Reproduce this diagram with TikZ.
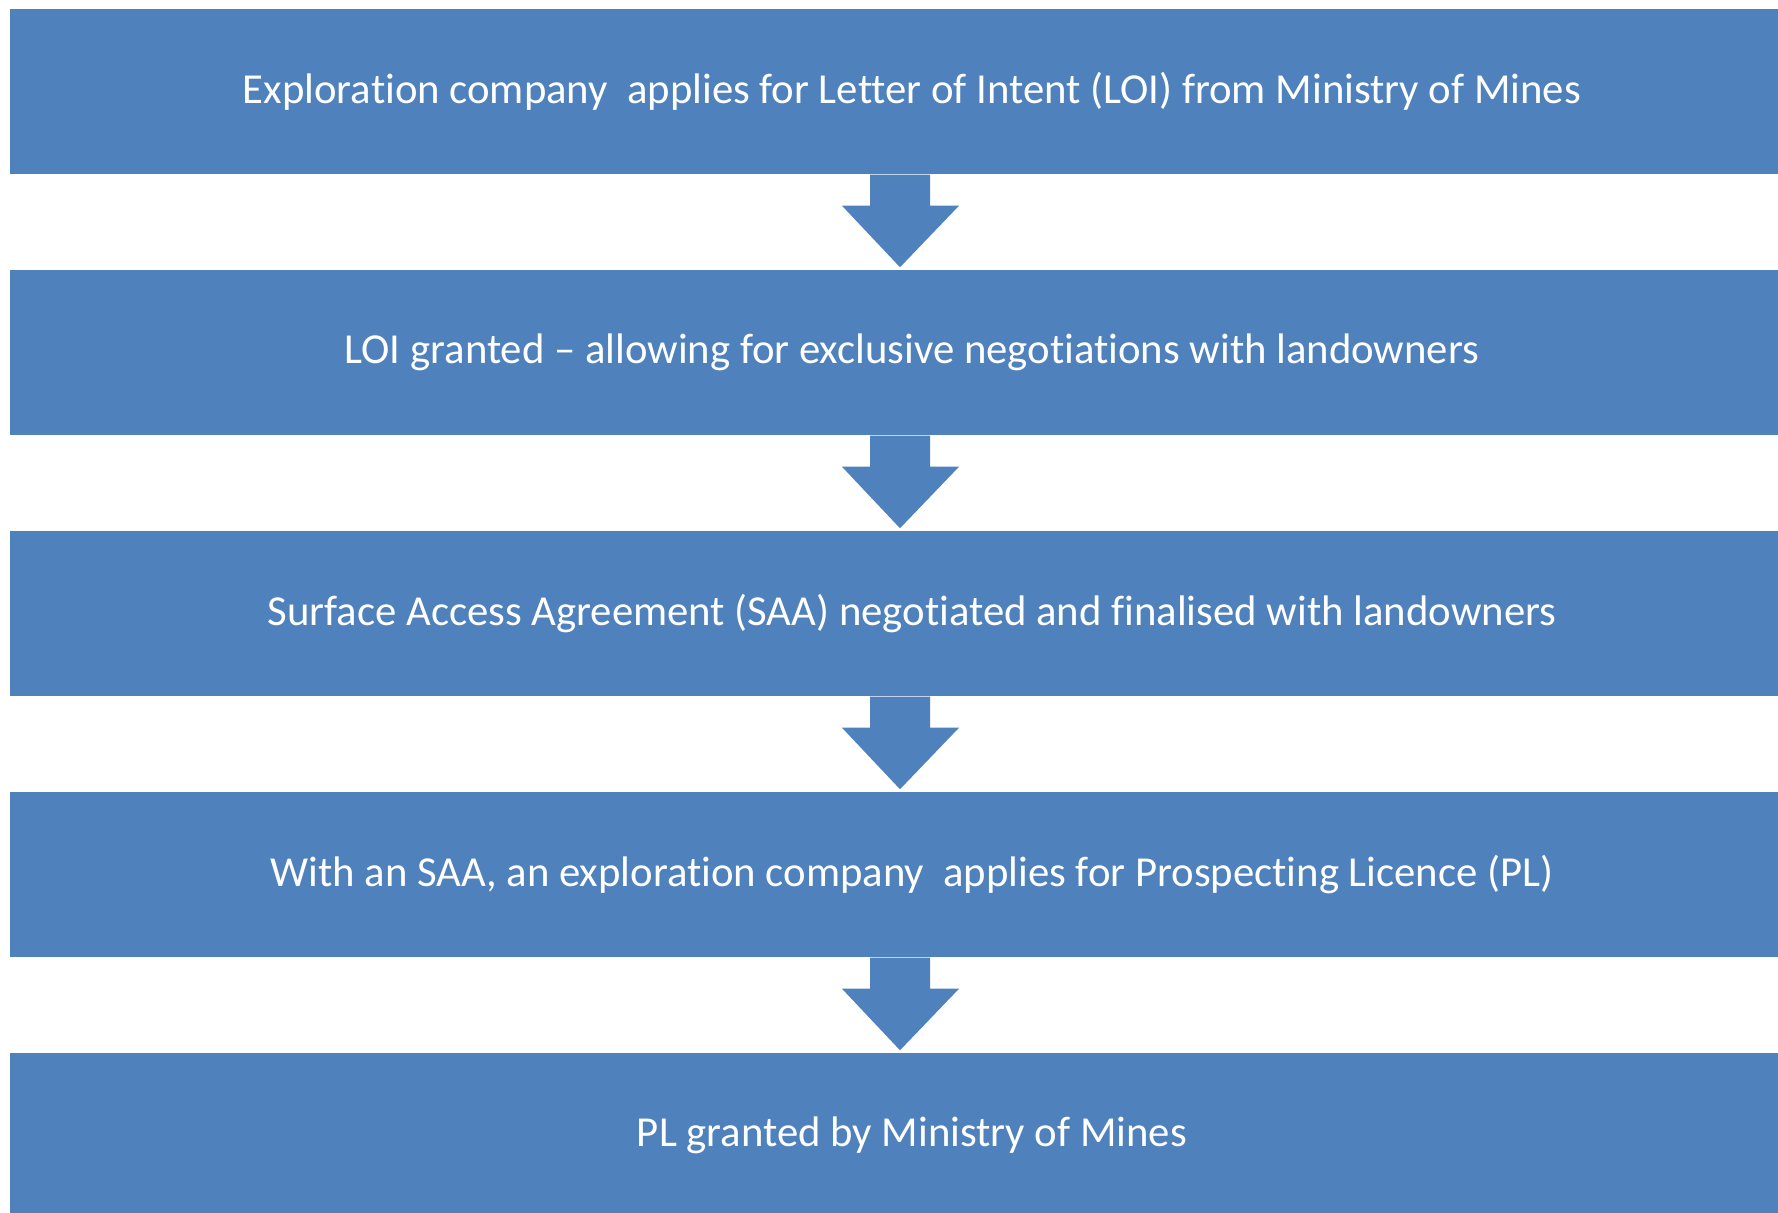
\documentclass[tikz,border=0pt]{standalone}
\usepackage{fontspec}
\setmainfont{Carlito}[Ligatures=NoCommon]
\usepackage{tikz}
\usetikzlibrary{calc}
\definecolor{stepblue}{RGB}{79, 129, 189}
\tikzset{
    stepbox/.style={fill=stepblue, draw=none, text=white,
                    minimum width=18.02cm, minimum height=1.65cm,
                    inner sep=0pt, align=center,
                    font=\fontsize{12.15}{14}\selectfont},
    flow/.style   ={fill=stepblue, draw=none}
}

\begin{document}
\begin{tikzpicture}[x=0.01cm, y=-0.01cm]
  \useasboundingbox (0,0) rectangle (1778,1213);
  \begin{scope}
  \clip (0,0) rectangle (1778,1213);
  % steps, top to bottom
  \node[stepbox] (s1) at (912, 91.5)   {Exploration company~ applies for Letter of Intent (LOI) from Ministry of Mines};
  \node[stepbox] (s2) at (912, 352.5)  {LOI granted -- allowing for exclusive negotiations with landowners};
  \node[stepbox] (s3) at (912, 613.5)  {Surface Access Agreement (SAA) negotiated and finalised with landowners};
  \node[stepbox] (s4) at (912, 874.5)  {With an SAA, an exploration company~ applies for Prospecting Licence (PL)};
  \node[stepbox] (s5) at (912, 1135.5) {PL granted by Ministry of Mines};

  % block arrows between steps
  \foreach \a/\b in {s1/s2, s2/s3, s3/s4, s4/s5}
    \fill[flow] ($(\a.south)+(-42,0)$) -- ++(0,31) -- ++(-28,0)
      -- ($(\b.north)+(-12,-2)$) -- ($(\a.south)+(47,31)$)
      -- ++(-29,0) -- ($(\a.south)+(18,0)$) -- cycle;
  \end{scope}
\end{tikzpicture}
\end{document}
